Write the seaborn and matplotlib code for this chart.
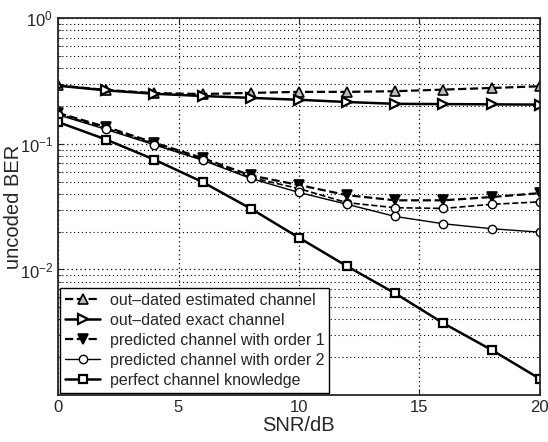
import numpy as np
import pandas as pd
import matplotlib
matplotlib.use("Agg")
import matplotlib.pyplot as plt
import seaborn as sns
from matplotlib.ticker import LogLocator, FixedLocator, NullFormatter

# Datos
snr = [0, 2, 4, 6, 8, 10, 12, 14, 16, 18, 20]
ber_outdated_est = [0.292, 0.268, 0.253, 0.249, 0.254, 0.259, 0.259, 0.262, 0.270, 0.278, 0.287]
ber_outdated_exact = [0.290, 0.266, 0.250, 0.240, 0.232, 0.224, 0.215, 0.208, 0.207, 0.206, 0.205]
ber_pred_order1 = [0.176, 0.136, 0.102, 0.077, 0.056, 0.047, 0.039, 0.0355, 0.0355, 0.0377, 0.0405]
ber_pred_order2_est = [0.173, 0.133, 0.100, 0.075, 0.054, 0.044, 0.034, 0.031, 0.0306, 0.033, 0.0345]
ber_pred_order2 = [0.170, 0.130, 0.098, 0.074, 0.053, 0.041, 0.033, 0.0264, 0.0231, 0.0211, 0.0198]
ber_perfect = [0.149, 0.108, 0.0748, 0.0496, 0.0305, 0.0179, 0.0106, 0.00645, 0.00373, 0.00229, 0.00135]

etiquetas = ["out\u2013dated estimated channel", "out\u2013dated exact channel",
             "predicted channel with order 1", "predicted channel with order 2",
             "perfect channel knowledge"]

sns.set_style("ticks")
plt.rcParams["font.family"] = ["Liberation Sans", "DejaVu Sans"]
plt.rcParams["mathtext.default"] = "regular"

fig = plt.figure(figsize=(5.48, 4.42), dpi=100)
ax = fig.add_axes([0.106, 0.106, 0.879, 0.853])
ax.set_yscale("log")

# curvas (color negro, estilo tipo MATLAB)
estilos = [
    (ber_outdated_est, dict(linestyle="--", marker="^", mfc="#bbbbbb", lw=1.6, ms=7, mew=1.2), etiquetas[0]),
    (ber_outdated_exact, dict(linestyle="-", marker=">", mfc="white", lw=1.8, ms=7, mew=1.6), etiquetas[1]),
    (ber_pred_order1, dict(linestyle="--", marker="v", mfc="black", lw=1.6, ms=7, mew=1.2), etiquetas[2]),
    (ber_pred_order2_est, dict(linestyle="--", marker="o", mfc="white", lw=1.2, ms=6, mew=1.0), None),
    (ber_pred_order2, dict(linestyle="-", marker="o", mfc="white", lw=1.0, ms=6, mew=1.0), etiquetas[3]),
    (ber_perfect, dict(linestyle="-", marker="s", mfc="white", lw=1.8, ms=6, mew=1.6), etiquetas[4]),
]

handles = []
for valores, kw, lab in estilos:
    sns.lineplot(x=snr, y=valores, ax=ax, color="black", mec="black", legend=False, **kw)
    if lab is not None:
        handles.append(ax.lines[-1])

ax.set_xlim(0, 20)
ax.set_ylim(1e-3, 1)
ax.set_xticks([0, 5, 10, 15, 20])
ax.yaxis.set_major_locator(FixedLocator([1e-2, 1e-1, 1]))
ax.yaxis.set_minor_locator(LogLocator(base=10, subs=np.arange(2, 10), numticks=20))
ax.yaxis.set_minor_formatter(NullFormatter())

punteado = (0, (1, 2.5))
ax.grid(which="major", axis="both", color="black", linestyle=punteado, linewidth=0.9)
ax.grid(which="minor", axis="y", color="black", linestyle=punteado, linewidth=0.8)
ax.set_axisbelow(True)
ax.tick_params(which="both", direction="in", top=True, right=True, labelsize=12)
ax.tick_params(which="major", length=4)
ax.tick_params(which="minor", length=2)
for s in ax.spines.values():
    s.set_linewidth(1.3)

ax.set_xlabel("SNR/dB", fontsize=14.5, labelpad=1)
ax.set_ylabel("uncoded BER", fontsize=14.5, labelpad=-2)

leg = ax.legend(handles, etiquetas, loc="lower left", fontsize=11.5, frameon=True,
                fancybox=False, edgecolor="black", framealpha=1, handlelength=2.2,
                labelspacing=0.32, borderpad=0.3, borderaxespad=0.15, handletextpad=0.6)
leg.get_frame().set_linewidth(1.0)

plt.savefig("out.png", dpi=100)
